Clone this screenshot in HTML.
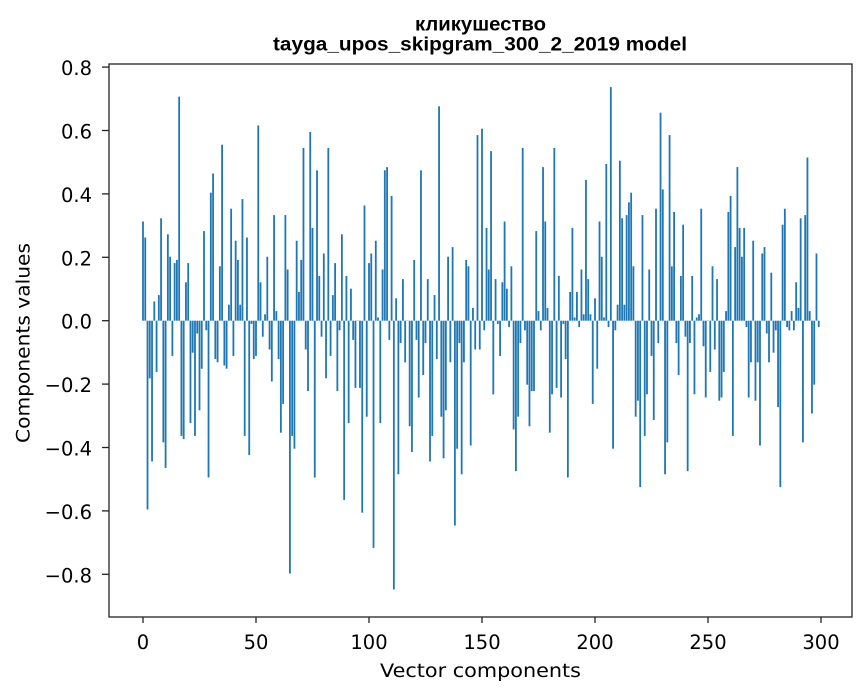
<!DOCTYPE html>
<html><head><meta charset="utf-8"><style>
body{margin:0;background:#fff}
svg{display:block;font-family:"DejaVu Sans","Liberation Sans",sans-serif}
</style></head><body>
<svg id="chart" width="867" height="696" viewBox="0 0 867 696">
<rect width="867" height="696" fill="#fff"/>
<text x="480.5" y="30.5" text-anchor="middle" font-size="19" font-weight="bold" font-family="Liberation Sans, sans-serif" textLength="131" lengthAdjust="spacingAndGlyphs">кликушество</text>
<text x="480" y="50.5" text-anchor="middle" font-size="19" font-weight="bold" font-family="Liberation Sans, sans-serif" textLength="414" lengthAdjust="spacingAndGlyphs">tayga_upos_skipgram_300_2_2019 model</text>
<g id="bars"></g>
<g id="axes"></g>
<rect x="109" y="64" width="743" height="553" fill="none" stroke="#222" stroke-width="1.3"/>
<text x="480.5" y="677" text-anchor="middle" font-size="19" textLength="201" lengthAdjust="spacingAndGlyphs">Vector components</text>
<text transform="translate(29.5,343) rotate(-90)" text-anchor="middle" font-size="19" textLength="200" lengthAdjust="spacingAndGlyphs">Components values</text>
</svg>
<script>
const values = [0.31,0.26,-0.59,-0.18,-0.44,0.06,-0.16,0.08,0.32,-0.38,
-0.46,0.27,0.20,-0.11,0.18,0.19,0.70,-0.36,-0.37,0.12,
0.18,-0.32,-0.10,-0.36,-0.04,-0.28,-0.15,0.28,-0.03,-0.49,
0.40,0.46,-0.12,-0.13,0.17,0.55,-0.14,-0.15,0.05,0.35,
-0.11,0.25,0.19,0.05,0.38,-0.36,0.26,-0.42,-0.01,-0.12,
-0.11,0.61,0.12,-0.05,0.02,0.20,-0.09,-0.19,0.33,0.03,
-0.12,-0.35,-0.26,0.33,0.16,-0.79,-0.36,-0.40,0.25,0.09,
0.19,0.54,-0.09,-0.22,0.59,0.29,-0.49,0.47,0.14,-0.05,
0.21,-0.18,0.54,-0.11,0.08,0.18,-0.22,-0.03,0.27,-0.56,
0.14,-0.32,0.10,-0.06,-0.21,0.00,-0.21,-0.60,0.36,-0.30,
0.18,0.21,-0.71,0.25,0.01,-0.32,0.16,0.47,0.48,-0.06,
0.39,-0.84,0.07,-0.48,-0.07,0.13,-0.13,0.00,-0.33,-0.41,
0.19,-0.06,-0.24,0.47,-0.17,-0.07,0.13,-0.44,-0.36,0.08,
-0.12,0.67,-0.30,-0.43,-0.28,0.20,-0.13,0.23,-0.64,-0.40,
-0.07,-0.48,-0.13,0.19,0.17,-0.39,0.04,-0.09,0.58,-0.09,
0.60,-0.03,0.29,0.16,0.53,-0.23,0.13,-0.01,-0.11,0.12,
0.31,0.10,-0.02,0.17,-0.34,-0.47,-0.30,-0.07,0.54,-0.03,
-0.20,-0.33,-0.22,-0.22,0.28,0.03,-0.03,0.48,0.31,0.04,
-0.35,-0.23,0.54,-0.21,0.14,-0.24,-0.01,-0.12,-0.49,0.09,
0.29,0.01,0.09,-0.02,0.16,0.02,0.44,0.13,0.02,-0.26,
0.07,-0.15,0.31,0.20,0.01,0.49,-0.02,0.73,-0.40,-0.03,
0.05,0.50,0.32,0.05,0.33,0.37,0.40,0.17,-0.30,-0.25,
-0.52,0.33,-0.36,-0.23,0.16,-0.11,-0.31,0.35,-0.07,0.65,
0.41,-0.48,-0.38,0.58,0.17,0.34,-0.07,-0.17,0.14,0.30,
-0.05,-0.47,-0.07,0.14,-0.23,0.01,0.02,0.35,-0.08,-0.24,
0.00,-0.16,0.17,-0.09,0.13,-0.25,-0.24,-0.16,0.03,0.34,
0.39,-0.36,0.23,0.48,0.29,0.20,0.29,-0.02,-0.24,-0.13,
0.25,-0.25,-0.13,-0.39,0.21,0.23,-0.04,-0.13,0.15,-0.10,
-0.03,-0.27,-0.52,0.30,0.35,-0.02,-0.03,0.03,-0.03,0.12,
0.04,0.32,-0.38,0.33,0.51,0.03,-0.29,-0.20,0.21,-0.02];
const xTicks = [0,50,100,150,200,250,300];
const yTicks = [-0.8,-0.6,-0.4,-0.2,0.0,0.2,0.4,0.6,0.8];
const yTickLabels = ["\u22120.8","\u22120.6","\u22120.4","\u22120.2","0.0","0.2","0.4","0.6","0.8"];

const NS = "http://www.w3.org/2000/svg";
const xScale = v => 143 + v * (678 / 300);
const yScale = v => 320.7 - v * 317;
const barScale = v => 320.7 - v * 320;
const barsG = document.getElementById('bars');
const bw = 0.8 * 678 / 300;
values.forEach((v, i) => {
  const r = document.createElementNS(NS, 'rect');
  const y0 = barScale(0), y1 = barScale(v);
  r.setAttribute('x', xScale(i) - bw / 2);
  r.setAttribute('y', Math.min(y0, y1));
  r.setAttribute('width', bw);
  r.setAttribute('height', Math.max(Math.abs(y1 - y0), 0.3));
  r.setAttribute('fill', '#1f77b4');
  
  
  barsG.appendChild(r);
});
const axesG = document.getElementById('axes');
xTicks.forEach(t => {
  const x = xScale(t);
  const l = document.createElementNS(NS, 'line');
  l.setAttribute('x1', x); l.setAttribute('x2', x);
  l.setAttribute('y1', 617); l.setAttribute('y2', 623);
  l.setAttribute('stroke', '#222');
  l.setAttribute('stroke-width', '1.3');
  
  
  axesG.appendChild(l);
  const tx = document.createElementNS(NS, 'text');
  tx.setAttribute('x', x); tx.setAttribute('y', 649);
  tx.setAttribute('text-anchor', 'middle'); tx.setAttribute('font-size', '19.5');
  tx.textContent = t;
  
  
  axesG.appendChild(tx);
});
yTicks.forEach((t, i) => {
  const y = yScale(t);
  const l = document.createElementNS(NS, 'line');
  l.setAttribute('x1', 102); l.setAttribute('x2', 109);
  l.setAttribute('y1', y); l.setAttribute('y2', y);
  l.setAttribute('stroke', '#222');
  l.setAttribute('stroke-width', '1.3');
  
  
  axesG.appendChild(l);
  const tx = document.createElementNS(NS, 'text');
  tx.setAttribute('x', 92); tx.setAttribute('y', y + 8);
  tx.setAttribute('text-anchor', 'end'); tx.setAttribute('font-size', '19.5');
  tx.textContent = yTickLabels[i];
  
  
  axesG.appendChild(tx);
});
</script>
</body></html>
